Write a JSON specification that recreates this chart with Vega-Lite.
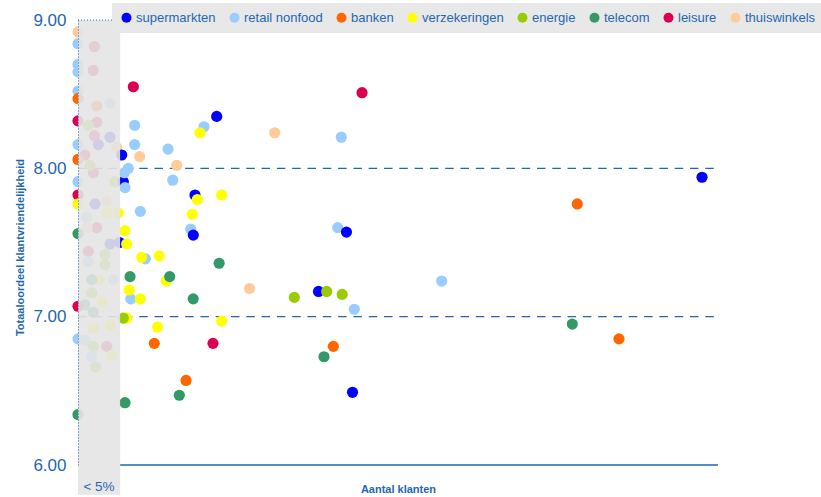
{
  "$schema": "https://vega.github.io/schema/vega-lite/v6.json",
  "width": 640,
  "height": 445,
  "autosize": {"type": "none"},
  "padding": {"left": 78, "top": 20, "right": 103, "bottom": 32},
  "background": "white",
  "config": {"view": {"stroke": null}, "font": "Liberation Sans"},
  "datasets": {
    "klanten": [
      {"sector": "leisure", "klanten": 1.94, "oordeel": 8.82},
      {"sector": "leisure", "klanten": 1.82, "oordeel": 8.66},
      {"sector": "leisure", "klanten": 2.22, "oordeel": 8.31},
      {"sector": "leisure", "klanten": 1.94, "oordeel": 8.22},
      {"sector": "leisure", "klanten": 0.83, "oordeel": 8.09},
      {"sector": "leisure", "klanten": 1.82, "oordeel": 7.97},
      {"sector": "leisure", "klanten": 2.22, "oordeel": 7.6},
      {"sector": "leisure", "klanten": 1.22, "oordeel": 7.44},
      {"sector": "leisure", "klanten": 3.41, "oordeel": 6.8},
      {"sector": "retail nonfood", "klanten": 3.8, "oordeel": 8.44},
      {"sector": "retail nonfood", "klanten": 1.03, "oordeel": 7.67},
      {"sector": "retail nonfood", "klanten": 1.22, "oordeel": 7.37},
      {"sector": "retail nonfood", "klanten": 4.19, "oordeel": 7.25},
      {"sector": "retail nonfood", "klanten": 0.83, "oordeel": 6.84},
      {"sector": "retail nonfood", "klanten": 1.63, "oordeel": 6.73},
      {"sector": "banken", "klanten": 2.22, "oordeel": 8.42},
      {"sector": "supermarkten", "klanten": 3.8, "oordeel": 8.21},
      {"sector": "supermarkten", "klanten": 2.41, "oordeel": 8.16},
      {"sector": "supermarkten", "klanten": 2.02, "oordeel": 7.76},
      {"sector": "supermarkten", "klanten": 3.8, "oordeel": 7.49},
      {"sector": "verzekeringen", "klanten": 3.41, "oordeel": 7.7},
      {"sector": "verzekeringen", "klanten": 2.61, "oordeel": 7.25},
      {"sector": "verzekeringen", "klanten": 2.81, "oordeel": 7.1},
      {"sector": "verzekeringen", "klanten": 3.8, "oordeel": 6.94},
      {"sector": "verzekeringen", "klanten": 1.82, "oordeel": 6.92},
      {"sector": "verzekeringen", "klanten": 4.0, "oordeel": 6.74},
      {"sector": "energie", "klanten": 1.22, "oordeel": 8.29},
      {"sector": "energie", "klanten": 1.43, "oordeel": 8.02},
      {"sector": "energie", "klanten": 4.39, "oordeel": 7.91},
      {"sector": "energie", "klanten": 3.21, "oordeel": 7.42},
      {"sector": "energie", "klanten": 3.21, "oordeel": 7.35},
      {"sector": "energie", "klanten": 1.63, "oordeel": 7.16},
      {"sector": "energie", "klanten": 1.82, "oordeel": 6.8},
      {"sector": "energie", "klanten": 2.1, "oordeel": 6.66},
      {"sector": "telecom", "klanten": 1.63, "oordeel": 7.25},
      {"sector": "telecom", "klanten": 0.83, "oordeel": 7.08},
      {"sector": "telecom", "klanten": 1.82, "oordeel": 7.03},
      {"sector": "thuiswinkels", "klanten": 3.41, "oordeel": 7.78},
      {"sector": "thuiswinkels", "klanten": 1.1, "oordeel": 7.6},
      {"sector": "thuiswinkels", "klanten": 0, "oordeel": 8.92},
      {"sector": "retail nonfood", "klanten": 0, "oordeel": 8.84},
      {"sector": "retail nonfood", "klanten": 0, "oordeel": 8.7},
      {"sector": "retail nonfood", "klanten": 0, "oordeel": 8.65},
      {"sector": "retail nonfood", "klanten": 0, "oordeel": 8.52},
      {"sector": "retail nonfood", "klanten": 0, "oordeel": 8.16},
      {"sector": "retail nonfood", "klanten": 0, "oordeel": 7.91},
      {"sector": "retail nonfood", "klanten": 0, "oordeel": 6.85},
      {"sector": "banken", "klanten": 0, "oordeel": 8.47},
      {"sector": "banken", "klanten": 0, "oordeel": 8.06},
      {"sector": "leisure", "klanten": 0, "oordeel": 8.32},
      {"sector": "leisure", "klanten": 0, "oordeel": 7.82},
      {"sector": "leisure", "klanten": 0, "oordeel": 7.07},
      {"sector": "verzekeringen", "klanten": 0, "oordeel": 7.76},
      {"sector": "telecom", "klanten": 0, "oordeel": 7.56},
      {"sector": "telecom", "klanten": 0, "oordeel": 6.34},
      {"sector": "thuiswinkels", "klanten": 4.59, "oordeel": 8.14},
      {"sector": "thuiswinkels", "klanten": 7.33, "oordeel": 8.08},
      {"sector": "thuiswinkels", "klanten": 11.72, "oordeel": 8.02},
      {"sector": "thuiswinkels", "klanten": 23.36, "oordeel": 8.24},
      {"sector": "thuiswinkels", "klanten": 20.37, "oordeel": 7.19},
      {"sector": "retail nonfood", "klanten": 14.96, "oordeel": 8.28},
      {"sector": "retail nonfood", "klanten": 6.73, "oordeel": 8.29},
      {"sector": "retail nonfood", "klanten": 6.73, "oordeel": 8.16},
      {"sector": "retail nonfood", "klanten": 10.69, "oordeel": 8.13},
      {"sector": "retail nonfood", "klanten": 11.25, "oordeel": 7.92},
      {"sector": "retail nonfood", "klanten": 7.4, "oordeel": 7.71},
      {"sector": "retail nonfood", "klanten": 13.38, "oordeel": 7.59},
      {"sector": "retail nonfood", "klanten": 30.84, "oordeel": 7.6},
      {"sector": "retail nonfood", "klanten": 31.27, "oordeel": 8.21},
      {"sector": "retail nonfood", "klanten": 7.99, "oordeel": 7.39},
      {"sector": "retail nonfood", "klanten": 6.26, "oordeel": 7.12},
      {"sector": "retail nonfood", "klanten": 32.81, "oordeel": 7.05},
      {"sector": "retail nonfood", "klanten": 43.19, "oordeel": 7.24},
      {"sector": "supermarkten", "klanten": 16.47, "oordeel": 8.35},
      {"sector": "supermarkten", "klanten": 13.89, "oordeel": 7.82},
      {"sector": "supermarkten", "klanten": 13.69, "oordeel": 7.55},
      {"sector": "supermarkten", "klanten": 31.88, "oordeel": 7.57},
      {"sector": "supermarkten", "klanten": 28.56, "oordeel": 7.17},
      {"sector": "supermarkten", "klanten": 32.6, "oordeel": 6.49},
      {"sector": "supermarkten", "klanten": 74.1, "oordeel": 7.94},
      {"sector": "supermarkten", "klanten": 5.19, "oordeel": 8.09},
      {"sector": "supermarkten", "klanten": 5.38, "oordeel": 7.91},
      {"sector": "supermarkten", "klanten": 4.93, "oordeel": 7.5},
      {"sector": "retail nonfood", "klanten": 5.97, "oordeel": 8.0},
      {"sector": "retail nonfood", "klanten": 5.5, "oordeel": 7.97},
      {"sector": "retail nonfood", "klanten": 5.58, "oordeel": 7.87},
      {"sector": "verzekeringen", "klanten": 14.49, "oordeel": 8.24},
      {"sector": "verzekeringen", "klanten": 14.17, "oordeel": 7.79},
      {"sector": "verzekeringen", "klanten": 17.06, "oordeel": 7.82},
      {"sector": "verzekeringen", "klanten": 13.57, "oordeel": 7.69},
      {"sector": "verzekeringen", "klanten": 4.79, "oordeel": 7.7},
      {"sector": "verzekeringen", "klanten": 5.58, "oordeel": 7.58},
      {"sector": "verzekeringen", "klanten": 5.78, "oordeel": 7.49},
      {"sector": "verzekeringen", "klanten": 7.56, "oordeel": 7.4},
      {"sector": "verzekeringen", "klanten": 9.65, "oordeel": 7.41},
      {"sector": "verzekeringen", "klanten": 10.49, "oordeel": 7.24},
      {"sector": "verzekeringen", "klanten": 6.09, "oordeel": 7.18},
      {"sector": "verzekeringen", "klanten": 7.4, "oordeel": 7.12},
      {"sector": "verzekeringen", "klanten": 5.78, "oordeel": 6.99},
      {"sector": "verzekeringen", "klanten": 17.06, "oordeel": 6.97},
      {"sector": "verzekeringen", "klanten": 9.46, "oordeel": 6.93},
      {"sector": "telecom", "klanten": 16.76, "oordeel": 7.36},
      {"sector": "telecom", "klanten": 6.18, "oordeel": 7.27},
      {"sector": "telecom", "klanten": 10.89, "oordeel": 7.27},
      {"sector": "telecom", "klanten": 13.68, "oordeel": 7.12},
      {"sector": "telecom", "klanten": 29.21, "oordeel": 6.73},
      {"sector": "telecom", "klanten": 12.03, "oordeel": 6.47},
      {"sector": "telecom", "klanten": 5.58, "oordeel": 6.42},
      {"sector": "telecom", "klanten": 58.7, "oordeel": 6.95},
      {"sector": "energie", "klanten": 25.69, "oordeel": 7.13},
      {"sector": "energie", "klanten": 29.53, "oordeel": 7.17},
      {"sector": "energie", "klanten": 31.37, "oordeel": 7.15},
      {"sector": "energie", "klanten": 5.38, "oordeel": 6.99},
      {"sector": "banken", "klanten": 9.06, "oordeel": 6.82},
      {"sector": "banken", "klanten": 12.83, "oordeel": 6.57},
      {"sector": "banken", "klanten": 30.32, "oordeel": 6.8},
      {"sector": "banken", "klanten": 59.29, "oordeel": 7.76},
      {"sector": "banken", "klanten": 64.24, "oordeel": 6.85},
      {"sector": "leisure", "klanten": 6.57, "oordeel": 8.55},
      {"sector": "leisure", "klanten": 33.73, "oordeel": 8.51},
      {"sector": "leisure", "klanten": 16.03, "oordeel": 6.82}
    ]
  },
  "layer": [
    {
      "data": {"values": [{}]},
      "mark": {"type": "rule", "color": "#1f67b1", "strokeWidth": 1.3, "strokeDash": [8.5, 6.8]},
      "encoding": {"x": {"datum": 0}, "x2": {"datum": 75.85}, "y": {"datum": 8}}
    },
    {
      "data": {"values": [{}]},
      "mark": {"type": "rule", "color": "#1f67b1", "strokeWidth": 1.3, "strokeDash": [8.5, 6.8]},
      "encoding": {"x": {"datum": 0}, "x2": {"datum": 75.85}, "y": {"datum": 7}}
    },
    {
      "data": {"values": [{}]},
      "mark": {"type": "rule", "color": "#1f67b1", "strokeWidth": 1.5},
      "encoding": {"x": {"datum": 5}, "x2": {"datum": 76}, "y": {"datum": 6}}
    },
    {
      "data": {"name": "klanten"},
      "mark": {"type": "point", "filled": true, "opacity": 1, "size": 125, "strokeWidth": 0},
      "encoding": {
        "x": {
          "field": "klanten",
          "type": "quantitative",
          "scale": {"domain": [0, 76], "nice": false, "zero": false},
          "axis": {
            "title": "Aantal klanten",
            "labels": false,
            "ticks": false,
            "domain": false,
            "grid": false,
            "titleFontSize": 11,
            "titleFontWeight": "bold",
            "titleColor": "#1f67b1",
            "titleBaseline": "alphabetic",
            "titleY": 27
          }
        },
        "y": {
          "field": "oordeel",
          "type": "quantitative",
          "scale": {"domain": [6, 9], "nice": false, "zero": false},
          "axis": {
            "title": "Totaaloordeel klantvriendelijkheid",
            "values": [6, 7, 8, 9],
            "format": ".2f",
            "grid": false,
            "ticks": false,
            "tickSize": 0,
            "labelPadding": 12,
            "labelFontSize": 17,
            "labelColor": "#1f67b1",
            "domainColor": "#1f67b1",
            "domainDash": [1, 2],
            "domainWidth": 1,
            "titleFontSize": 11,
            "titleFontWeight": "bold",
            "titleColor": "#1f67b1",
            "titleX": -53,
            "titleY": 227,
            "zindex": 1
          }
        },
        "color": {
          "field": "sector",
          "type": "nominal",
          "scale": {
            "domain": ["supermarkten", "retail nonfood", "banken", "verzekeringen", "energie", "telecom", "leisure", "thuiswinkels"],
            "range": ["#0000ff", "#99ccff", "#ff6600", "#ffff00", "#99cc00", "#339966", "#dc0050", "#ffcc99"]
          },
          "legend": {
            "title": null,
            "orient": "none",
            "legendX": 34,
            "legendY": -17,
            "direction": "horizontal",
            "columns": 8,
            "fillColor": "#e8e8e8",
            "padding": 8,
            "symbolType": "circle",
            "symbolSize": 100,
            "symbolStrokeWidth": 0,
            "labelFontSize": 13,
            "labelColor": "#1f67b1",
            "labelOffset": 3,
            "columnPadding": 12,
            "labelLimit": 200
          }
        }
      }
    },
    {
      "data": {"values": [{}]},
      "mark": {"type": "rect", "fill": "#e4e4e4", "fillOpacity": 0.9},
      "encoding": {"x": {"datum": 0}, "x2": {"datum": 5}, "y": {"datum": 9}, "y2": {"datum": 5.8}}
    },
    {
      "data": {"values": [{}]},
      "mark": {"type": "rule", "color": "#1f67b1", "strokeWidth": 1, "strokeDash": [1, 2]},
      "encoding": {"x": {"datum": 0}, "x2": {"datum": 5}, "y": {"datum": 9}}
    },
    {
      "data": {"values": [{}]},
      "mark": {"type": "text", "text": "< 5%", "fontSize": 13.5, "color": "#1f67b1", "align": "center", "baseline": "middle"},
      "encoding": {"x": {"datum": 2.5}, "y": {"datum": 5.854}}
    }
  ]
}
